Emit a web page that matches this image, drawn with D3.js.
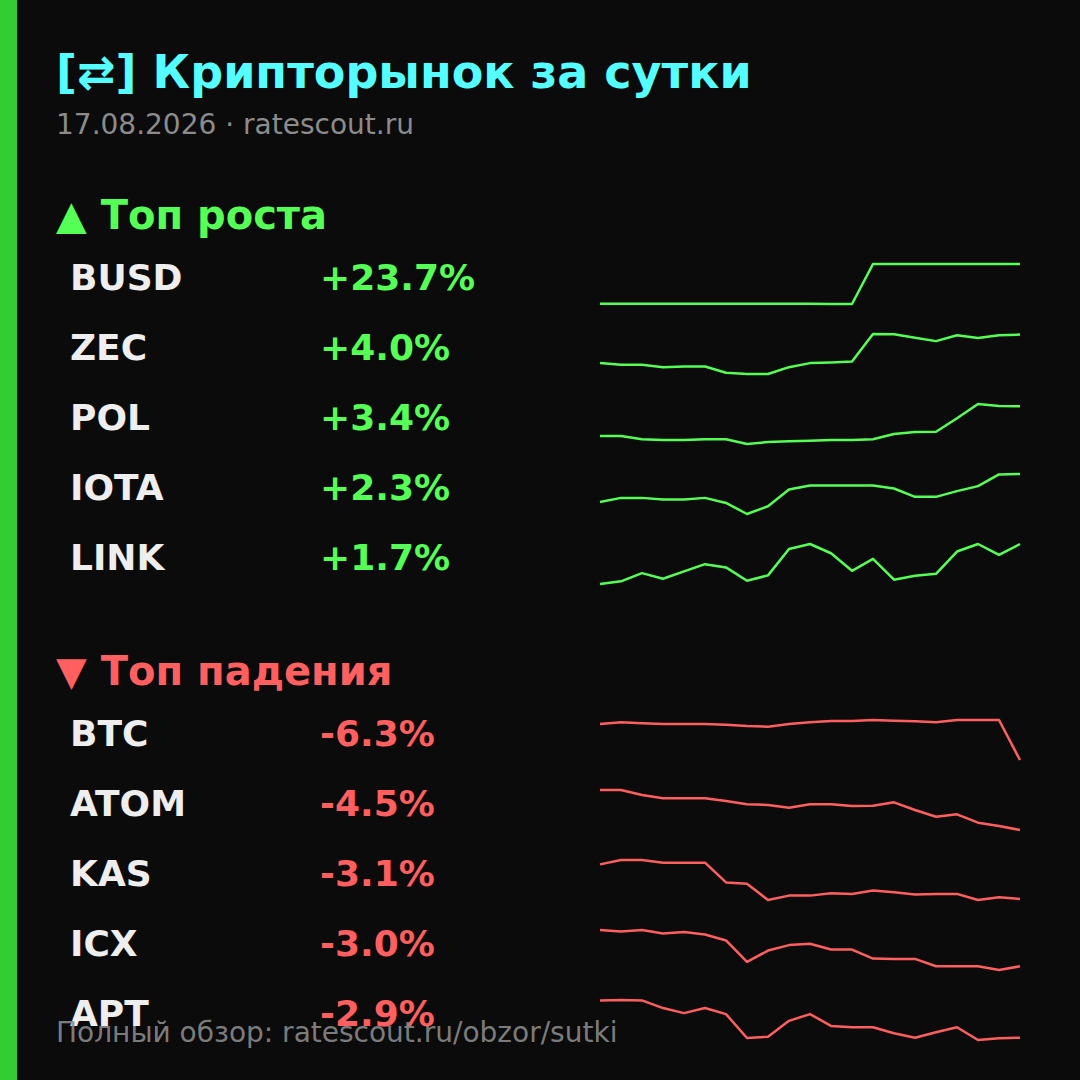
<!DOCTYPE html>
<html>
<head>
<meta charset="utf-8">
<script src="https://cdn.jsdelivr.net/npm/d3@7"></script>
<style>
  html, body { margin: 0; padding: 0; background: #0b0b0b; }
  svg { display: block; font-family: "DejaVu Sans", sans-serif; }
</style>
</head>
<body>
<div class="card"></div>
<script>
// top gainers / losers over 24h
const gainTickers = ["BUSD", "ZEC", "POL", "IOTA", "LINK"];
const gainChanges = ["+23.7%", "+4.0%", "+3.4%", "+2.3%", "+1.7%"];
const lossTickers = ["BTC", "ATOM", "KAS", "ICX", "APT"];
const lossChanges = ["-6.3%", "-4.5%", "-3.1%", "-3.0%", "-2.9%"];

// sparkline series, 21 points each (relative levels)
const busdSeries = [0.3, 0.3, 0.3, 0.3, 0.3, 0.3, 0.3, 0.3, 0.3, 0.3, 0.3, 0, 0, 39, 39, 39, 39, 39, 39, 39, 39];
const zecSeries = [10.7, 9, 9, 6.7, 7.3, 7.3, 1.3, 0, 0, 6.7, 10.7, 11.3, 12.3, 39.3, 39, 35.7, 32.3, 38, 35.3, 38, 38.7];
const polSeries = [8, 8, 4.7, 4, 4, 4.7, 4.7, 0, 2, 2.7, 3.3, 4, 4, 4.7, 10, 12, 12.3, 25.7, 40, 38, 37.7];
const iotaSeries = [12, 16, 16, 14.3, 14.3, 16, 11, 0, 7.7, 24.3, 28.3, 28.3, 28.3, 28.3, 25.3, 17, 17, 22.7, 27.7, 39.3, 39.7];
const linkSeries = [0, 2.7, 11, 5.3, 12.7, 20, 16.7, 3.3, 8.7, 35.3, 40.3, 31, 13.3, 25.3, 4.3, 8.3, 10.3, 32.7, 40.3, 29.3, 40.3];
const btcSeries = [36, 37.7, 36.7, 36, 36, 36, 35.3, 34, 33.3, 36, 37.7, 39, 39, 40, 39.3, 38.7, 37.7, 40, 40, 40, 0];
const atomSeries = [40, 40, 35, 31.7, 31.7, 31.7, 29, 25.7, 25, 22.3, 25.7, 25.7, 24, 24.3, 27.7, 20, 13.3, 15.7, 7.3, 4, 0];
const kasSeries = [35, 39.3, 39.3, 36.7, 36.7, 36.7, 17.3, 16, 0, 4.3, 4.3, 6.7, 6, 9.3, 7.7, 5.3, 6, 6, 0, 2.7, 1];
const icxSeries = [39.7, 38.3, 39.7, 36.3, 37.7, 35.3, 29.3, 8, 19.3, 24.7, 26, 20.3, 20.3, 11.3, 11, 11, 3.7, 3.7, 3.7, 0, 3.7];
const aptSeries = [39.3, 39.7, 39.3, 31.7, 26.7, 31.7, 25.7, 2, 3.3, 19, 25.7, 14, 12.7, 12.7, 6.7, 2.3, 7.7, 12.7, 0, 1.7, 2.3];

const gainSeries = [busdSeries, zecSeries, polSeries, iotaSeries, linkSeries];
const lossSeries = [btcSeries, atomSeries, kasSeries, icxSeries, aptSeries];

const width = 1080, height = 1080;
const green = "#55ff55", red = "#ff5f5f";

const svg = d3.select(".card")
  .append("svg")
  .attr("width", width)
  .attr("height", height);

svg.append("rect").attr("width", width).attr("height", height).attr("fill", "#0b0b0b");
svg.append("rect").attr("width", 17).attr("height", height).attr("fill", "#33cc33");

// title
svg.append("text")
  .attr("x", 56).attr("y", 88)
  .attr("font-size", 46).attr("font-weight", "bold")
  .attr("fill", "#55ffff")
  .text("[⇄] Крипторынок за сутки");

svg.append("text")
  .attr("x", 56).attr("y", 134)
  .attr("font-size", 28)
  .attr("fill", "#8c8c8c")
  .text("17.08.2026 · ratescout.ru");

const x = d3.scaleLinear().domain([0, 20]).range([600, 1020]);

function section(title, color, baseTop, tickers, changes, series) {
  svg.append("text")
    .attr("x", 56).attr("y", baseTop)
    .attr("font-size", 40).attr("font-weight", "bold")
    .attr("fill", color)
    .text(title);

  const rows = svg.append("g")
    .selectAll("g")
    .data(tickers)
    .join("g")
    .attr("transform", (d, i) => `translate(0,${baseTop + 61 + i * 70})`);

  rows.append("text")
    .attr("x", 70)
    .attr("font-size", 36).attr("font-weight", "bold")
    .attr("fill", "#eeeeee")
    .text(d => d);

  rows.append("text")
    .attr("x", 320)
    .attr("font-size", 36).attr("font-weight", "bold")
    .attr("fill", color)
    .text((d, i) => changes[i]);

  rows.append("path")
    .attr("fill", "none")
    .attr("stroke", color)
    .attr("stroke-width", 2.5)
    .attr("stroke-linejoin", "round")
    .attr("d", (d, i) => {
      const s = series[i];
      const y = d3.scaleLinear().domain(d3.extent(s)).range([14, -26]);
      return d3.line().x((v, j) => x(j)).y(v => y(v))(s);
    });
}

section("▲ Топ роста", green, 229, gainTickers, gainChanges, gainSeries);
section("▼ Топ падения", red, 685, lossTickers, lossChanges, lossSeries);

// footer (sits over the last row, as in the original card)
svg.append("text")
  .attr("x", 56).attr("y", 1042)
  .attr("font-size", 28)
  .attr("fill", "#8c8c8c")
  .attr("fill-opacity", 0.9)
  .text("Полный обзор: ratescout.ru/obzor/sutki");
</script>
</body>
</html>
